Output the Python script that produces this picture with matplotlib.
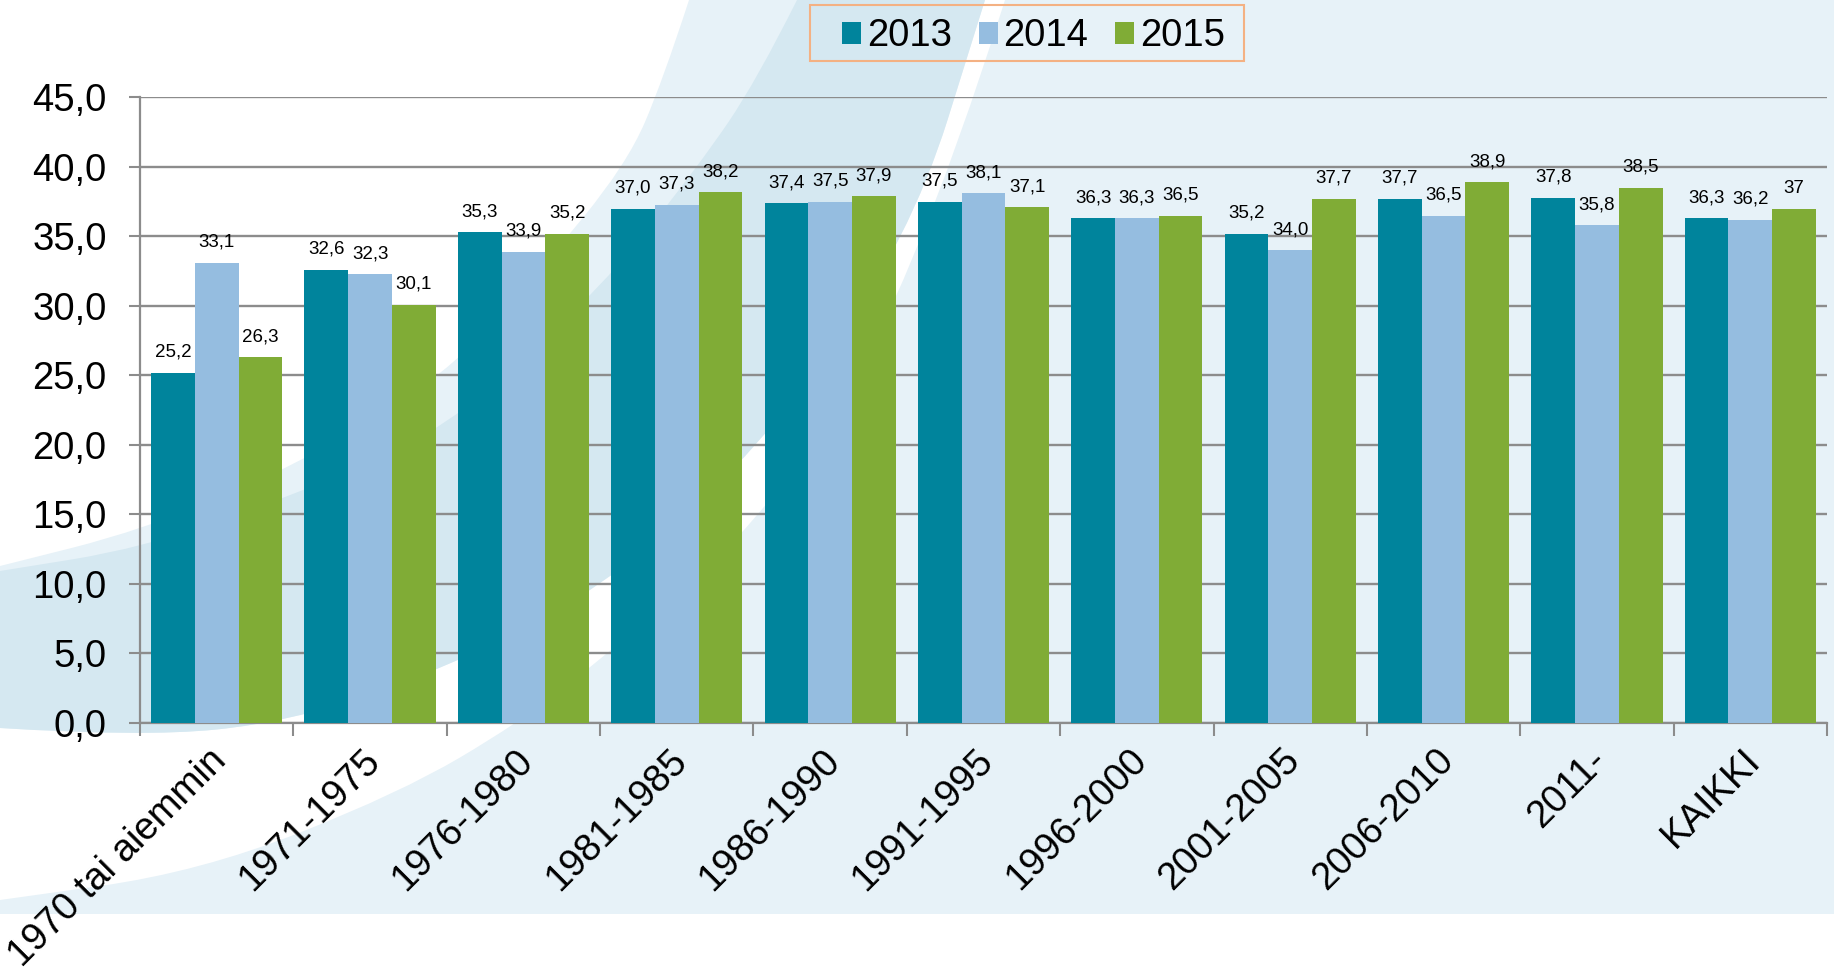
import numpy as np
import matplotlib
matplotlib.use('Agg')
import matplotlib.pyplot as plt
import matplotlib.transforms as mtrans
from matplotlib.path import Path
from matplotlib.patches import PathPatch, Rectangle

plt.rcParams['font.family'] = ['Liberation Sans', 'DejaVu Sans']

categories = ['1970 tai aiemmin', '1971-1975', '1976-1980', '1981-1985', '1986-1990',
              '1991-1995', '1996-2000', '2001-2005', '2006-2010', '2011-', 'KAIKKI']
years = ['2013', '2014', '2015']
v2013 = [25.2, 32.6, 35.3, 37.0, 37.4, 37.5, 36.3, 35.2, 37.7, 37.8, 36.3]
v2014 = [33.1, 32.3, 33.9, 37.3, 37.5, 38.1, 36.3, 34.0, 36.5, 35.8, 36.2]
v2015 = [26.3, 30.1, 35.2, 38.2, 37.9, 37.1, 36.5, 37.7, 38.9, 38.5, 37]
yticks = [0, 5, 10, 15, 20, 25, 30, 35, 40, 45]

colors = ['#00849c', '#95bde0', '#80ac36']
grid_col = '#8c8c8c'


def fmt(v):
    # integer values were shown without decimals in the original
    if isinstance(v, int):
        return str(v)
    return ('%.1f' % v).replace('.', ',')


def swoosh(pts, first=Path.LINETO):
    verts = [pts[0]]
    codes = [first]
    for i in range(1, len(pts) - 1):
        mid = ((pts[i][0] + pts[i + 1][0]) / 2, (pts[i][1] + pts[i + 1][1]) / 2)
        verts += [pts[i], mid]
        codes += [Path.CURVE3, Path.CURVE3]
    verts.append(pts[-1])
    codes.append(Path.LINETO)
    return verts, codes


def shape(ax, parts, color):
    verts, codes = [], []
    for kind, pts in parts:
        first = Path.MOVETO if not verts else Path.LINETO
        if kind == 'curve':
            v, c = swoosh(pts, first)
        else:
            v = list(pts)
            c = [first] + [Path.LINETO] * (len(pts) - 1)
        verts += v
        codes += c
    verts.append(verts[0])
    codes.append(Path.CLOSEPOLY)
    ax.add_patch(PathPatch(Path(verts, codes), facecolor=color, edgecolor='none'))


fig = plt.figure(figsize=(18.34, 9.67), dpi=100)

# decorative background (pixel coordinates, y down)
bg = fig.add_axes([0, 0, 1, 1], zorder=0)
bg.set_xlim(0, 1834)
bg.set_ylim(967, 0)
bg.axis('off')
light = '#e7f2f8'
mid = '#d5e8f1'
a_edge = [(1005, 0), (910, 300), (755, 530), (600, 660), (520, 722), (400, 793), (200, 872), (0, 900)]
b_up = [(797, 0), (757, 80), (700, 164), (600, 290), (447, 430), (294, 495), (143, 548), (0, 571)]
b_low = [(0, 728), (143, 737), (290, 722), (447, 668), (600, 590), (755, 455), (910, 240), (985, 0)]
c_up = [(689, 0), (663, 80), (627, 164), (540, 270), (447, 375), (294, 467), (143, 530), (0, 566)]
shape(bg, [('curve', a_edge), ('line', [(0, 914), (1834, 914), (1834, 0)])], light)
shape(bg, [('curve', c_up), ('curve', b_low)], light)
shape(bg, [('curve', b_up), ('curve', b_low)], mid)
# legend frame
bg.add_patch(Rectangle((810, 5), 434, 56, fill=False, edgecolor='#f4b183', lw=1.5))

ax = fig.add_axes([0.07634, 0.25233, 0.91985, 0.64685], zorder=1)
ax.patch.set_alpha(0)

x = np.arange(len(categories))
w = 0.285
for i, (vals, col, yr) in enumerate(zip([v2013, v2014, v2015], colors, years)):
    pos = x + (i - 1) * w
    ax.bar(pos, vals, w, color=col, label=yr, zorder=3)
    for px, v in zip(pos, vals):
        ax.annotate(fmt(v), (px, v), xytext=(0, 11.5), textcoords='offset points',
                    ha='center', va='baseline', fontsize=13.5, zorder=4)

ax.set_xlim(-0.5, len(categories) - 0.5)
ax.set_ylim(0, 45)
ax.set_yticks(yticks)
ax.set_yticklabels([('%.1f' % t).replace('.', ',') for t in yticks], fontsize=27.5)
ax.yaxis.grid(True, color=grid_col, lw=1.7)
ax.set_axisbelow(True)
ax.tick_params(axis='y', direction='out', length=8, width=1.5, color=grid_col, pad=16)

ax.set_xticks(x)
ax.set_xticklabels(categories, fontsize=27.5, rotation=45, ha='right', va='top')
ax.set_xticks(np.arange(len(categories) + 1) - 0.5, minor=True)
ax.tick_params(axis='x', which='major', length=0, pad=14)
ax.tick_params(axis='x', which='minor', direction='out', length=9, width=1.5, color=grid_col)
shift = mtrans.ScaledTranslation(0.17, 0, fig.dpi_scale_trans)
for lab in ax.get_xticklabels():
    lab.set_transform(lab.get_transform() + shift)

for s in ['top', 'right']:
    ax.spines[s].set_visible(False)
for s in ['left', 'bottom']:
    ax.spines[s].set_color(grid_col)
    ax.spines[s].set_linewidth(1.6)

ax.legend(ncol=3, loc='center', bbox_to_anchor=(0.5636, 0.9625),
          bbox_transform=fig.transFigure, fontsize=27.5, frameon=False,
          handlelength=0.5, handleheight=0.5, handletextpad=0.15,
          columnspacing=0.7, borderpad=0.2, borderaxespad=0)

plt.savefig('out.png', dpi=100)
